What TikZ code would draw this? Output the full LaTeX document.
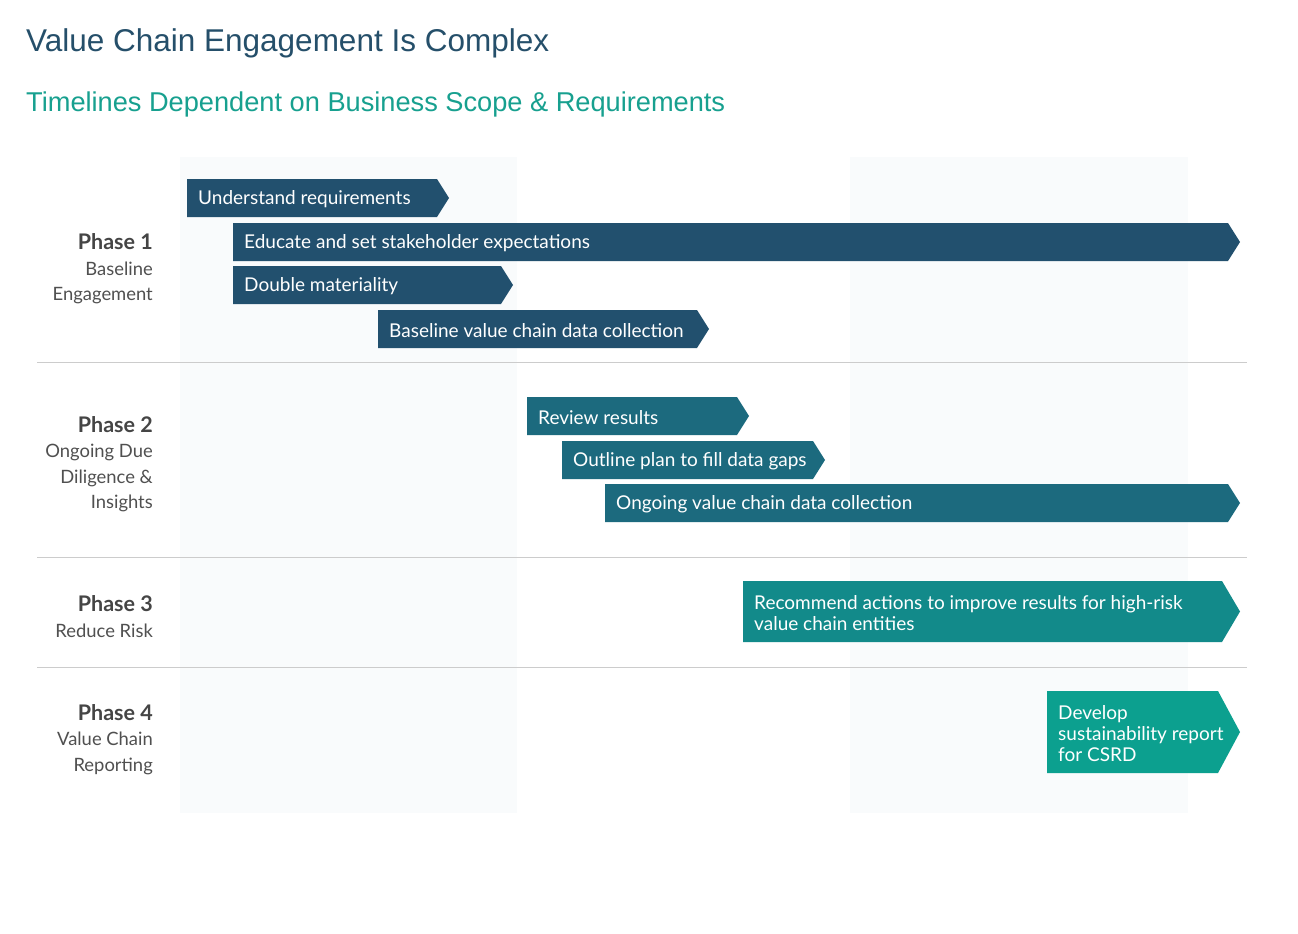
\documentclass[tikz,border=0pt]{standalone}
\usepackage{fontspec}
\setmainfont{Lato}
\newfontfamily\titlefont{Liberation Sans}
\definecolor{titleblue}{HTML}{254F6A}
\definecolor{subteal}{HTML}{17A08F}
\definecolor{barA}{HTML}{22506E}
\definecolor{barB}{HTML}{1C6A7E}
\definecolor{barC}{HTML}{128A8A}
\definecolor{barD}{HTML}{0CA08F}
\definecolor{colbg}{HTML}{F9FBFC}
\definecolor{sepgray}{HTML}{CCCCCC}
\definecolor{phasegray}{HTML}{454545}
\definecolor{descgray}{HTML}{505050}
\tikzset{
  bartext/.style={text=white, inner sep=0pt, align=left, font=\fontsize{19}{21}\selectfont},
  phaselabel/.style={anchor=east, inner sep=0pt, align=right, text=descgray, font=\fontsize{18.4}{25.5}\selectfont},
  sepline/.style={draw=sepgray, line width=0.9pt},
}
\newcommand\phasehead[1]{{\fontsize{21.5}{25.5}\selectfont\bfseries\color{phasegray}#1}}
\newcommand\chevbar[8]{%
  \fill[#7] (#2,#3) -- (#4-#6,#3) -- (#4,{(#3+#5)/2}) -- (#4-#6,#5) -- (#2,#5) -- cycle;
  \node[bartext, anchor=west] (#1) at (#2+11,{(#3+#5)/2+1.5}) {#8};
}
\begin{document}
\begin{tikzpicture}[x=1pt,y=-1pt]
\fill[white] (0,0) rectangle (1298,934);
\useasboundingbox (0,0) rectangle (1298,934);
% background columns
\fill[colbg] (180,157) rectangle (517,813);
\fill[colbg] (850,157) rectangle (1188,813);
% titles
\node[anchor=base west, inner sep=0pt, text=titleblue, font=\titlefont\fontsize{31.5}{36}\selectfont] (title) at (26,52) {Value Chain Engagement Is Complex};
\node[anchor=base west, inner sep=0pt, text=subteal, font=\titlefont\fontsize{27.2}{30}\selectfont] (subtitle) at (26,111) {Timelines Dependent on Business Scope \& Requirements};
% separators
\draw[sepline] (37,362) -- (1247,362);
\draw[sepline] (37,557) -- (1247,557);
\draw[sepline] (37,667) -- (1247,667);
% phase labels
\node[phaselabel] (p1) at (153,269) {\phasehead{Phase 1}\\Baseline\\Engagement};
\node[phaselabel] (p2) at (153,464) {\phasehead{Phase 2}\\Ongoing Due\\Diligence \&\\Insights};
\node[phaselabel] (p3) at (153,616.5) {\phasehead{Phase 3}\\Reduce Risk};
\node[phaselabel] (p4) at (153,739.5) {\phasehead{Phase 4}\\Value Chain\\Reporting};
% bars
\chevbar{b1}{187}{179}{449}{217}{12}{barA}{Understand requirements}
\chevbar{b2}{233}{223}{1240}{261}{12}{barA}{Educate and set stakeholder expectations}
\chevbar{b3}{233}{266}{513}{304}{12}{barA}{Double materiality}
\chevbar{b4}{378}{310}{709}{348}{12}{barA}{Baseline value chain data collection}
\chevbar{b5}{527}{397}{749}{435}{12}{barB}{Review results}
\chevbar{b6}{562}{441}{825}{479}{12}{barB}{Outline plan to fill data gaps}
\chevbar{b7}{605}{484}{1240}{522}{12}{barB}{Ongoing value chain data collection}
\chevbar{b8}{743}{581}{1240}{642}{18}{barC}{Recommend actions to improve results for high-risk\\value chain entities}
\chevbar{b9}{1047}{691}{1240}{773}{22}{barD}{Develop\\sustainability report\\for CSRD}
\end{tikzpicture}
\end{document}
